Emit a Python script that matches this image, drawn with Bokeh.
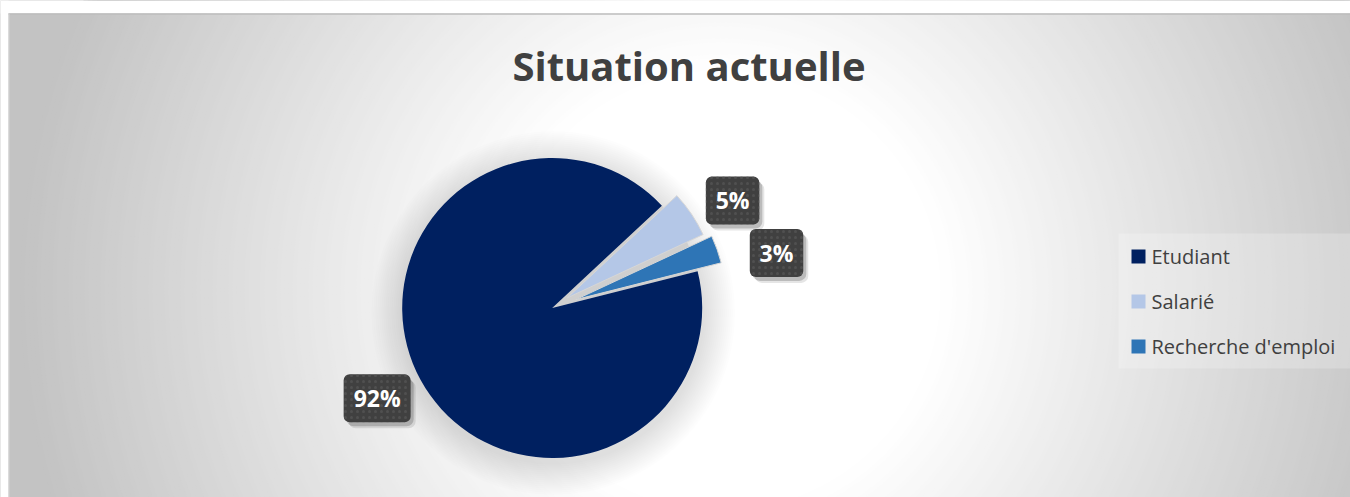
import math
import numpy as np
from bokeh.plotting import figure
from bokeh.models import Range1d
from bokeh.core.properties import value
from bokeh.embed import file_html
from bokeh.resources import INLINE

# ---------------- data ----------------
title = "Situation actuelle"
categories = ["Etudiant", "Salarié", "Recherche d'emploi"]
percent = [92, 5, 3]
labels = ["92%", "5%", "3%"]
colors = ["#002060", "#B4C7E7", "#2E75B6"]

# ---------------- layout helpers (page pixel -> data) ----------------
W, H = 1350, 497
def X(px):
    return px
def Y(py):
    return H - py

p = figure(width=W, height=H, x_range=Range1d(0, W), y_range=Range1d(0, H),
           output_backend="svg", toolbar_location=None, min_border=0,
           x_axis_location=None, y_axis_location=None)
p.xgrid.grid_line_color = None
p.ygrid.grid_line_color = None
p.outline_line_color = None
p.background_fill_color = "#c3c3c3"
p.border_fill_color = "white"

# ---------------- radial gradient background ----------------
gcx, gcy = X(720), Y(290)
radii = np.arange(700, 215, -4)
t = np.clip((radii - 220) / (700 - 220), 0, 1)
g = np.round(255 - t * (255 - 195)).astype(int)
gcols = ["#%02x%02x%02x" % (v, v, v) for v in g]
p.ellipse(x=gcx, y=gcy, width=list(2 * radii), height=list(2 * radii),
          fill_color=gcols, line_color=None)

# white strips outside chart area and its border
p.quad(left=0, right=W, bottom=Y(13), top=H, fill_color="white", line_color=None)
p.quad(left=0, right=X(8), bottom=0, top=H, fill_color="white", line_color=None)
p.segment(x0=X(8), y0=Y(13.5), x1=W, y1=Y(13.5), line_color="#bdbdbd", line_width=1.5)
p.segment(x0=X(8.5), y0=0, x1=X(8.5), y1=Y(13), line_color="#d4d4d4", line_width=1)

# ---------------- pie ----------------
cx, cy, R = X(551.7), Y(307.5), 150
start_deg = 14.2
explode = [0, 18, 25]
total = float(sum(percent))
spans = [v / total * 2 * math.pi for v in percent]
starts, ends, mids = [], [], []
a = math.radians(start_deg)
for s in spans:
    starts.append(a)
    ends.append(a - s)
    mids.append(a - s / 2)
    a -= s
wx = [cx + e * math.cos(m) for e, m in zip(explode, mids)]
wy = [cy + e * math.sin(m) for e, m in zip(explode, mids)]

# soft shadow behind pie
sh_r = [R + 2 * k for k in range(16, 0, -1)]
p.circle(x=cx + 1, y=cy - 5, radius=sh_r, fill_color="black", fill_alpha=0.009,
         line_color=None)

# grey shadow visible in the gaps left by the exploded slices
p.wedge(x=cx, y=cy, radius=R, start_angle=starts[1], end_angle=ends[-1],
        direction="clock", fill_color="#cfcfcf", line_color=None)

p.wedge(x=wx, y=wy, radius=R, start_angle=starts, end_angle=ends,
        direction="clock", fill_color=colors,
        line_color=[None, "#d6d6d6", "#d6d6d6"], line_width=1)

# ---------------- data labels ----------------
label_r = [197, 210, 231]
label_dang = [-1.3, -3.2, -5.8]
lx = [cx + r * math.cos(m + math.radians(d)) for r, m, d in zip(label_r, mids, label_dang)]
ly = [cy + r * math.sin(m + math.radians(d)) for r, m, d in zip(label_r, mids, label_dang)]
bw = [13.5 * len(s) + 26.5 for s in labels]
bh = 48
for off, al in [((5, -6), 0.10), ((3, -4), 0.18)]:
    p.quad(left=[x - w / 2 + off[0] for x, w in zip(lx, bw)],
           right=[x + w / 2 + off[0] for x, w in zip(lx, bw)],
           bottom=[y - bh / 2 + off[1] for y in ly],
           top=[y + bh / 2 + off[1] for y in ly],
           fill_color="black", fill_alpha=al, line_color=None, border_radius=7)
p.quad(left=[x - w / 2 for x, w in zip(lx, bw)],
       right=[x + w / 2 for x, w in zip(lx, bw)],
       bottom=[y - bh / 2 for y in ly],
       top=[y + bh / 2 for y in ly],
       fill_color="#404040", line_color=None, border_radius=6,
       hatch_pattern="dot", hatch_color="#5a5a5a", hatch_scale=6, hatch_alpha=0.6)
p.text(x=lx, y=ly, text=labels, text_color="white", text_font=value("Open Sans"),
       text_font_style="bold", text_font_size="23px", text_align="center",
       text_baseline="middle")

# ---------------- title ----------------
p.text(x=X(688.5), y=Y(65), text=[title], text_color="#404040",
       text_font=value("Open Sans"), text_font_style="bold", text_font_size="40px",
       text_align="center", text_baseline="middle")

# ---------------- legend ----------------
p.quad(left=X(1118), right=W, bottom=Y(368), top=Y(233), fill_color="white",
       fill_alpha=0.22, line_color=None)
leg_y = [Y(256) - 45 * i for i in range(len(categories))]
p.rect(x=X(1138), y=leg_y, width=14, height=14, fill_color=colors, line_color=None)
p.text(x=X(1151), y=leg_y, text=categories, text_color="#404040",
       text_font=value("Open Sans"), text_font_size="20px", text_align="left",
       text_baseline="middle")

open("out.html", "w").write(file_html(p, INLINE))
